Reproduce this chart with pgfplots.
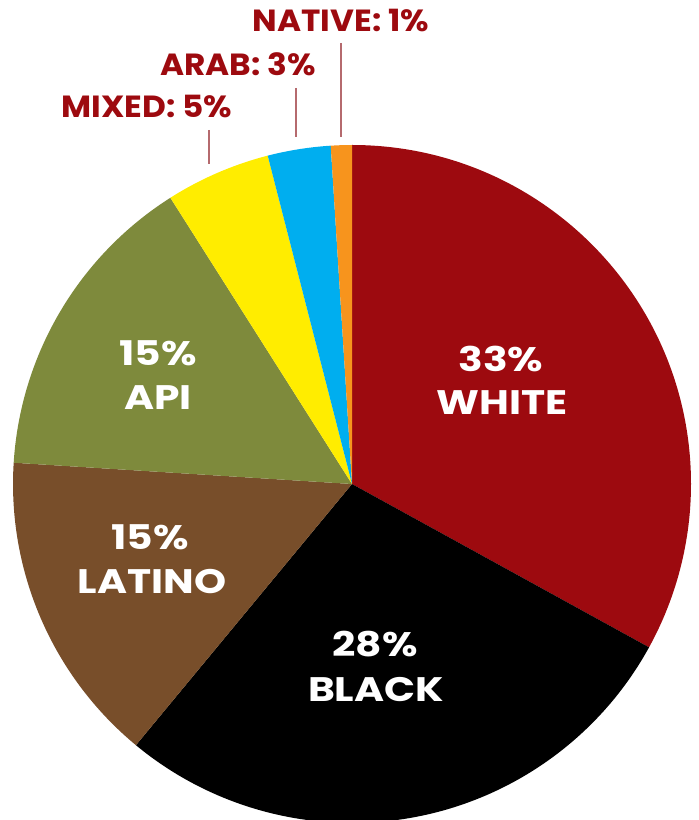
\documentclass[border=0pt]{standalone}
\usepackage{pgfplots}
\pgfplotsset{compat=1.18}
\usepackage{fontspec}
\setmainfont{Poppins}[FakeStretch=1.2]
\newfontfamily\outfont{Poppins}[FakeStretch=1.07]
\definecolor{cWhite}{HTML}{9D0A0F}
\definecolor{cBlack}{HTML}{000000}
\definecolor{cLatino}{HTML}{784E2A}
\definecolor{cApi}{HTML}{7E8A3C}
\definecolor{cMixed}{HTML}{FFED00}
\definecolor{cArab}{HTML}{00AEEF}
\definecolor{cNative}{HTML}{F7941D}
\definecolor{lbl}{HTML}{9D0A0F}
\definecolor{leader}{HTML}{B56A6E}

\begin{document}
\begin{tikzpicture}
\begin{axis}[
    x=0.5pt, y=0.5pt,
    xmin=0, xmax=699, ymin=0, ymax=820,
    hide axis,
]
% share in percent / colour, clockwise from the top
\gdef\startang{90}
\foreach \v/\c in {33/cWhite, 28/cBlack, 15/cLatino, 15/cApi, 5/cMixed, 3/cArab, 1/cNative} {
    \pgfmathsetmacro\endang{\startang-3.6*\v}
    \edef\temp{\noexpand\fill[\c, shift={(axis cs:352,336)}] (0,0) -- (\startang:169.5pt)
        arc[start angle=\startang, end angle=\endang, radius=169.5pt] -- cycle;}
    \temp
    \xdef\startang{\endang}
}

% labels inside slices
\tikzset{inlbl/.style={anchor=base, text=white, font=\bfseries\fontsize{17}{20}\selectfont}}
\node[inlbl] at (axis cs:501,448) {33\%};
\node[inlbl] at (axis cs:502,405) {WHITE};
\node[inlbl] at (axis cs:375,163) {28\%};
\node[inlbl] at (axis cs:376,118) {BLACK};
\node[inlbl] at (axis cs:150,270) {15\%};
\node[inlbl] at (axis cs:152,226) {LATINO};
\node[inlbl] at (axis cs:158,454) {15\%};
\node[inlbl] at (axis cs:158,410) {API};

% labels outside with leader lines
\tikzset{outlbl/.style={anchor=base, text=lbl, font=\outfont\bfseries\fontsize{15.3}{18}\selectfont}}
\node[outlbl] at (axis cs:341,788) {NATIVE: 1\%};
\node[outlbl] at (axis cs:238,744) {ARAB: 3\%};
\node[outlbl] at (axis cs:147,702) {MIXED: 5\%};
\draw[leader, line width=0.75pt] (axis cs:341,777) -- (axis cs:341,683);
\draw[leader, line width=0.75pt] (axis cs:296,732) -- (axis cs:296,683);
\draw[leader, line width=0.75pt] (axis cs:209,690) -- (axis cs:209,656);
\end{axis}
\pgfresetboundingbox
\path (current axis.south west) rectangle (current axis.north east);
\end{tikzpicture}
\end{document}
